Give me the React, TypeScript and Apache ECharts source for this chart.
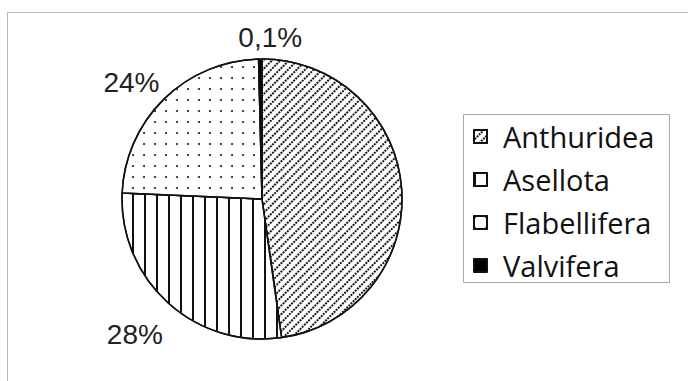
import React, { useEffect, useRef } from "react";
import * as echarts from "echarts";

const categories = ["Anthuridea", "Asellota", "Flabellifera", "Valvifera"];
const shares = [47.9, 28, 24, 0.1];
const shareLabels = ["", "28%", "24%", "0,1%"];

// per-label nudges for the outside percentage labels
const labelShift: [number, number][] = [
  [0, 0],
  [3, 23],
  [4, -8],
  [42, -10],
];

const decals: any[] = [
  {
    symbol: "rect",
    color: "#1a1a1a",
    dashArrayX: [1.3, 0.9],
    dashArrayY: [1.1, 3.6],
    rotation: -Math.PI / 4,
  },
  {
    symbol: "rect",
    color: "#111",
    dashArrayX: [1.4, 9.6],
    dashArrayY: [1, 0],
    rotation: 0,
  },
  {
    symbol: "circle",
    color: "#222",
    dashArrayX: [2, 8.7],
    dashArrayY: [2, 9],
  },
  null,
];

const fills = ["#fff", "#fff", "#fff", "#000"];

export default function App() {
  const ref = useRef<HTMLDivElement>(null);

  useEffect(() => {
    if (!ref.current) return;
    const chart = echarts.init(ref.current, null, { renderer: "svg" });

    const data = categories.map((name, i) => ({
      name,
      value: shares[i],
      itemStyle: {
        color: fills[i],
        decal: decals[i] || undefined,
      },
      label: { show: shareLabels[i] !== "" },
    }));

    chart.setOption({
      animation: false,
      backgroundColor: "#fff",
      graphic: [
        {
          type: "rect",
          shape: { x: 7.5, y: 12.5, width: 720, height: 420 },
          style: { fill: "none", stroke: "#b8b8b8", lineWidth: 1 },
          silent: true,
        },
        {
          type: "rect",
          shape: { x: 463.5, y: 114.5, width: 206, height: 168 },
          style: { fill: "none", stroke: "#a8a8a8", lineWidth: 1 },
          silent: true,
        },
      ],
      legend: {
        orient: "vertical",
        left: 463,
        top: 114,
        padding: [8, 10, 0, 10],
        itemWidth: 13,
        itemHeight: 13,
        itemGap: 14,
        icon: "rect",
        data: categories,
        textStyle: {
          fontFamily: "Open Sans",
          fontSize: 29,
          color: "#111",
          padding: [0, 0, 0, 11],
        },
      },
      series: [
        {
          type: "pie",
          center: [262, 199],
          radius: [0, 140],
          startAngle: 90,
          clockwise: true,
          minAngle: 1.4,
          avoidLabelOverlap: false,
          itemStyle: { borderColor: "#111", borderWidth: 1.5 },
          emphasis: { disabled: true },
          label: {
            position: "outside",
            formatter: (p: any) => shareLabels[p.dataIndex],
            fontFamily: "Liberation Sans",
            fontSize: 28,
            color: "#222",
            distanceToLabelLine: 0,
          },
          labelLine: { show: false, length: 12, length2: 0 },
          labelLayout: (p: any) => ({
            dx: labelShift[p.dataIndex][0],
            dy: labelShift[p.dataIndex][1],
          }),
          data,
        },
      ],
    });

    return () => chart.dispose();
  }, []);

  return (
    <div
      ref={ref}
      style={{ position: "absolute", left: 0, top: 0, width: 688, height: 381 }}
    />
  );
}
